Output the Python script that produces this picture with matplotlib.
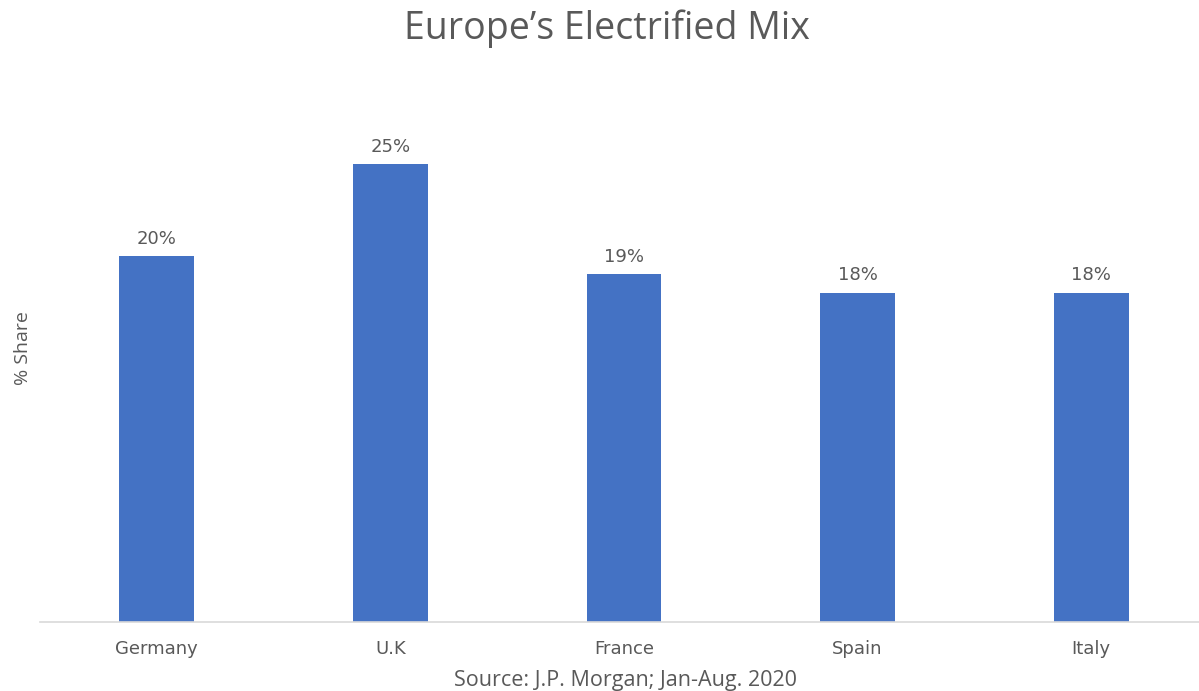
import matplotlib.pyplot as plt

# Datos del grafico
paises = ['Germany', 'U.K', 'France', 'Spain', 'Italy']
valores = [20, 25, 19, 18, 18]
etiquetas = ['20%', '25%', '19%', '18%', '18%']

gris = '#595959'
plt.rcParams['font.family'] = ['DejaVu Sans']
titulo_fuente = ['Open Sans', 'DejaVu Sans']

fig = plt.figure(figsize=(11.99, 6.91), dpi=100)
ax = fig.add_axes([40 / 1199, 69 / 691, 1168 / 1199, 549 / 691])

barras = ax.bar(range(len(paises)), valores, width=0.32, color='#4472C4')
ax.bar_label(barras, labels=etiquetas, padding=6, fontsize=13, color=gris)

ax.set_xlim(-0.5, 4.5)
ax.set_ylim(0, 30)
ax.set_xticks(range(len(paises)))
ax.set_xticklabels(paises, fontsize=13, color=gris)
ax.tick_params(axis='x', length=0, pad=13)
ax.set_yticks([])

for lado in ['top', 'right', 'left']:
    ax.spines[lado].set_visible(False)
ax.spines['bottom'].set_color('#D9D9D9')
ax.spines['bottom'].set_linewidth(1.2)

fig.text(607 / 1199, 1 - 39 / 691, 'Europe\u2019s Electrified Mix', ha='center', va='baseline',
         fontsize=27, color=gris, family=titulo_fuente)
fig.text(23 / 1199, 1 - 348 / 691, '% Share', rotation=90, ha='center', va='center',
         fontsize=14, color=gris, family=titulo_fuente)
fig.text(626 / 1199, 1 - 686 / 691, 'Source: J.P. Morgan; Jan-Aug. 2020', ha='center',
         va='baseline', fontsize=15.5, color=gris, family=titulo_fuente)

fig.savefig('out.png', dpi=100)
